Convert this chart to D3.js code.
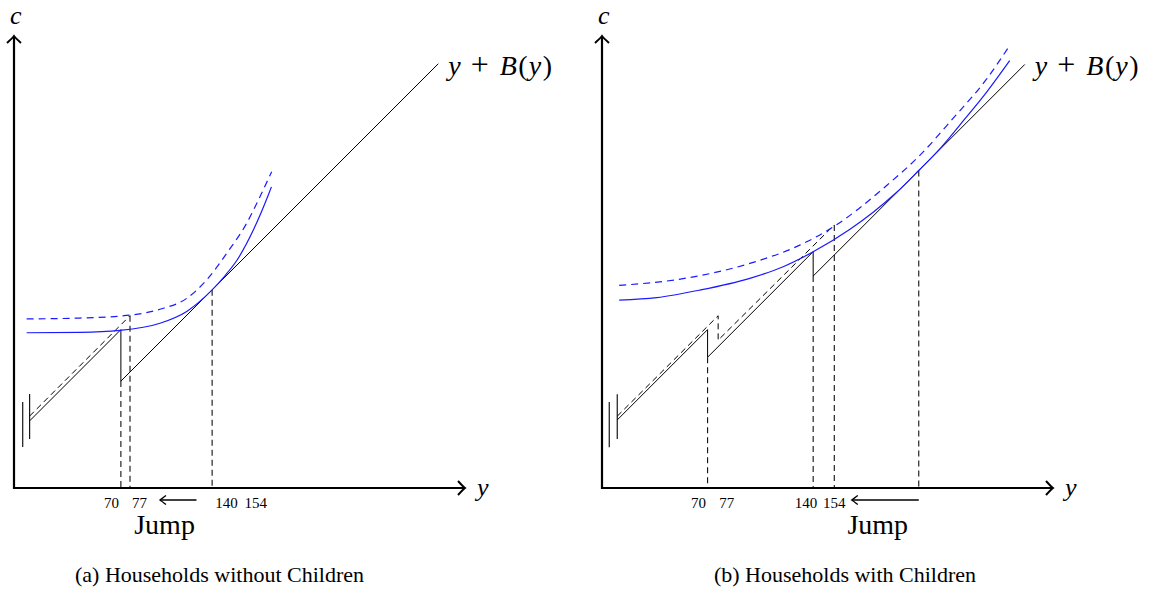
<!DOCTYPE html>
<html>
<head>
    <meta charset="utf-8">
    <title>Budget constraint with benefit jump</title>
    <style type="text/css">
        body{margin:0;background:#fff}
        text{font-family:'Liberation Serif','DejaVu Serif',serif;fill:#000}
        .math{font-style:italic}
        .up{font-style:normal}
    </style>
</head>
<body>
    <script src="https://d3js.org/d3.v7.min.js"></script>
    <script>
      // (a) households without children -- income y, consumption c
      var ticksA      = [70, 77, 140, 154];
      var budgetA     = [[0, 51.5], [70, 121.5], [70, 82], [313.5, 325.5]];
      var budgetDashA = [[0, 55.2], [77, 132.2]];
      var dropsA      = [[70, 82], [77, 132.2], [140, 152]];
      var breaksA     = [[0, 37.6, 72.1], [-5.3, 31.5, 66]];
      var curveA      = [[-2.3, 119.1], [38.6, 119.4], [69.3, 120.9], [100, 126.4], [120.5, 135.5],
                         [140, 152], [150, 163], [158.9, 174.5], [171.6, 197.9], [183.1, 224.8], [185.5, 231]];
      var curveDashA  = [[-2.3, 129.7], [38.6, 130.4], [77, 132.6], [100, 137.1], [120.5, 145.5],
                         [135.8, 159.6], [151.2, 180.1], [166.5, 203.1], [176.7, 223.5], [185.7, 242.7]];
      var jumpA       = [128, 100];

      // (b) households with children
      var ticksB      = [70, 77, 140, 154];
      var budgetB     = [[10.1, 45.1], [70, 105], [70, 86.7], [140, 156.7], [140, 140.5], [280.3, 280.8]];
      var budgetDashB = [[10.1, 47.6], [77, 114.2], [77, 98], [154, 174.4]];
      var dropsB      = [[70, 86.7], [140, 140.5], [154, 174.4], [210, 210.5]];
      var breaksB     = [[10.1, 32.5, 62.1], [4.8, 27, 57]];
      var curveB      = [[11.4, 124.6], [36.2, 126.2], [64.9, 131.2], [98, 139], [120.1, 146.7], [140, 156.6],
                         [164.4, 171.6], [180, 183], [195, 195.7], [210, 210.5], [225, 226], [240, 244],
                         [255, 262.5], [270.3, 283.4]];
      var curveDashB  = [[11.4, 134.3], [53.8, 138.8], [98, 148.9], [131.1, 161], [153.2, 173], [170, 185],
                         [186.3, 198.5], [210.7, 220.5], [232.7, 245], [254.9, 271], [270.3, 293.4]];
      var jumpB       = [210, 165.6];

      var panels = [
        {ticks: ticksA, budget: budgetA, budgetDash: budgetDashA, drops: dropsA, breaks: breaksA,
         curve: curveA, curveDash: curveDashA, jump: jumpA,
         xDomain: [-12, 334], xRange: [14, 465], yDomain: [0, 346],
         labels: [["end", -2], ["start", 2], ["start", 3], ["start", 14]],
         jumpText: 103.5, caption: "(a) Households without Children", captionX: 219.5},
        {ticks: ticksB, budget: budgetB, budgetDash: budgetDashB, drops: dropsB, breaks: breaksB,
         curve: curveB, curveDash: curveDashB, jump: jumpB,
         xDomain: [0, 299], xRange: [602, 1053], yDomain: [0, 299],
         labels: [["end", -1.5], ["start", 1], ["end", 4], ["middle", 0]],
         jumpText: 182.8, caption: "(b) Households with Children", captionX: 845}
      ];

      var svg = d3.select("body")
          .append("svg")
          .attr("width", 1149)
          .attr("height", 604);

      var defs = svg.append("defs");
      defs.append("marker")
          .attr("id", "axisHead")
          .attr("markerUnits", "userSpaceOnUse")
          .attr("viewBox", "-10 -10 12 20")
          .attr("markerWidth", 12).attr("markerHeight", 20)
          .attr("refX", 0).attr("refY", 0)
          .attr("orient", "auto")
          .append("path")
          .attr("d", "M-7,-7 Q-2,-1.5 0,0 Q-2,1.5 -7,7")
          .attr("fill", "none").attr("stroke", "#000").attr("stroke-width", 2);
      defs.append("marker")
          .attr("id", "jumpHead")
          .attr("markerUnits", "userSpaceOnUse")
          .attr("viewBox", "-8 -6 10 12")
          .attr("markerWidth", 10).attr("markerHeight", 12)
          .attr("refX", 0).attr("refY", 0)
          .attr("orient", "auto")
          .append("path")
          .attr("d", "M-6,-4.5 Q-1.5,-1 0,0 Q-1.5,1 -6,4.5")
          .attr("fill", "none").attr("stroke", "#000").attr("stroke-width", 1.4);

      var axisY = 488, axisTop = 36;

      panels.forEach(function(p){
        var x = d3.scaleLinear().domain(p.xDomain).range(p.xRange);
        var y = d3.scaleLinear().domain(p.yDomain).range([axisY, axisTop + 1]);
        var g = svg.append("g");

        var line = d3.line()
            .x(function(d){ return x(d[0]); })
            .y(function(d){ return y(d[1]); });
        var smooth = d3.line()
            .x(function(d){ return x(d[0]); })
            .y(function(d){ return y(d[1]); })
            .curve(d3.curveMonotoneX);

        // dashed drop lines to the income axis
        g.selectAll(".drop")
            .data(p.drops)
            .enter()
            .append("line")
            .attr("x1", function(d){ return x(d[0]); })
            .attr("x2", function(d){ return x(d[0]); })
            .attr("y1", function(d){ return y(d[1]); })
            .attr("y2", y(0))
            .attr("stroke", "#111").attr("stroke-width", 1.1)
            .attr("stroke-dasharray", "6,4");

        // axis-break bars at the start of the budget line
        g.selectAll(".brk")
            .data(p.breaks)
            .enter()
            .append("line")
            .attr("x1", function(d){ return x(d[0]); })
            .attr("x2", function(d){ return x(d[0]); })
            .attr("y1", function(d){ return y(d[1]); })
            .attr("y2", function(d){ return y(d[2]); })
            .attr("stroke", "#000").attr("stroke-width", 1.1);

        g.append("path")
            .attr("d", line(p.budgetDash))
            .attr("fill", "none").attr("stroke", "#000").attr("stroke-width", 1)
            .attr("stroke-dasharray", "6,4");
        g.append("path")
            .attr("d", line(p.budget))
            .attr("fill", "none").attr("stroke", "#000").attr("stroke-width", 1);

        g.append("path")
            .attr("d", smooth(p.curveDash))
            .attr("fill", "none").attr("stroke", "#1a1aff").attr("stroke-width", 1.2)
            .attr("stroke-dasharray", "7,5");
        g.append("path")
            .attr("d", smooth(p.curve))
            .attr("fill", "none").attr("stroke", "#1a1aff").attr("stroke-width", 1.2);

        // axes
        g.append("line")
            .attr("x1", p.xRange[0]).attr("y1", axisY)
            .attr("x2", p.xRange[1]).attr("y2", axisY)
            .attr("stroke", "#000").attr("stroke-width", 2.2)
            .attr("marker-end", "url(#axisHead)");
        g.append("line")
            .attr("x1", p.xRange[0]).attr("y1", axisY + 1.1)
            .attr("x2", p.xRange[0]).attr("y2", axisTop)
            .attr("stroke", "#000").attr("stroke-width", 2.2)
            .attr("marker-end", "url(#axisHead)");

        g.append("text").attr("class", "math")
            .attr("x", p.xRange[0] - 4).attr("y", 24)
            .attr("font-size", 26).text("c");
        g.append("text").attr("class", "math")
            .attr("x", p.xRange[1] + 12).attr("y", 496)
            .attr("font-size", 26).text("y");

        // y + B(y) label at the end of the budget line
        var end = p.budget[p.budget.length - 1];
        var lab = g.append("text")
            .attr("x", x(end[0]) + 10).attr("y", 75)
            .attr("font-size", 28);
        lab.append("tspan").attr("class", "math").text("y");
        lab.append("tspan").attr("class", "up").attr("dx", 10).attr("font-size", 32).text("+");
        lab.append("tspan").attr("class", "math").attr("dx", 11).text("B");
        lab.append("tspan").attr("class", "up").attr("dx", 1.5).text("(");
        lab.append("tspan").attr("class", "math").attr("dx", 1).text("y");
        lab.append("tspan").attr("class", "up").attr("dx", 1.5).text(")");

        // tick labels
        g.selectAll(".tl")
            .data(p.ticks)
            .enter()
            .append("text")
            .attr("x", function(d, i){ return x(d) + p.labels[i][1]; })
            .attr("y", 508)
            .attr("font-size", 15)
            .attr("text-anchor", function(d, i){ return p.labels[i][0]; })
            .text(function(d){ return d; });

        g.append("line")
            .attr("x1", x(p.jump[0])).attr("y1", 500)
            .attr("x2", x(p.jump[1])).attr("y2", 500)
            .attr("stroke", "#000").attr("stroke-width", 1.4)
            .attr("marker-end", "url(#jumpHead)");
        g.append("text")
            .attr("x", x(p.jumpText)).attr("y", 534)
            .attr("font-size", 28).attr("text-anchor", "middle")
            .text("Jump");

        g.append("text")
            .attr("x", p.captionX).attr("y", 582)
            .attr("font-size", 22).attr("text-anchor", "middle")
            .text(p.caption);
      });
    </script>
</body>
</html>
